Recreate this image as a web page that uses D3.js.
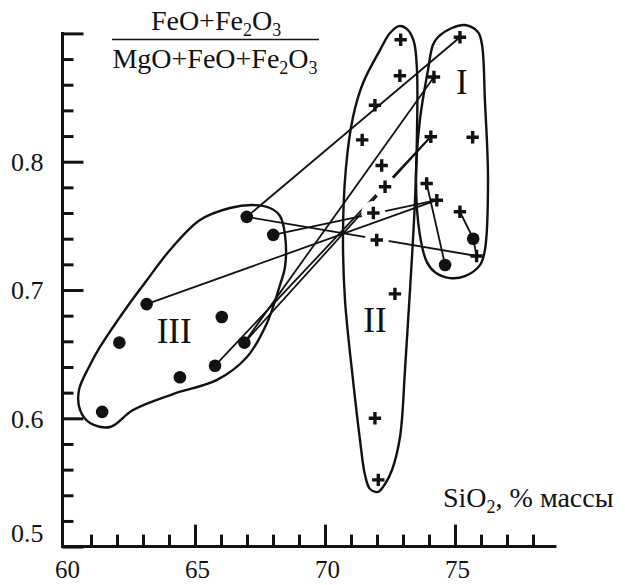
<!DOCTYPE html>
<html><head><meta charset="utf-8">
<script src="https://cdn.jsdelivr.net/npm/d3@7"></script>
<style>body{margin:0;background:#fff}</style>
</head><body><svg id="c" width="625" height="585"></svg>
<script>
// ---- data ----
const xTickLabels = [60, 65, 70, 75];
const xMinorTicks = [61,62,63,64,66,67,68,69,71,72,73,74,76,77,78];
const yTickValues = [0.5, 0.6, 0.7, 0.8, 0.9];
const yTickLabels = ["0.5", "0.6", "0.7", "0.8", ""];
const yMinorTicks = [0.52,0.54,0.56,0.58,0.62,0.64,0.66,0.68,0.72,0.74,0.76,0.78,0.82,0.84,0.86,0.88];

// enclaves (filled dots)
const dotSiO2 = [66.99, 68.01, 63.14, 66.03, 62.09, 66.90, 65.77, 64.42, 61.43, 75.70, 74.62];
const dotFe   = [0.757, 0.743, 0.689, 0.679, 0.659, 0.659, 0.641, 0.632, 0.605, 0.740, 0.7195];
// host rocks (crosses)
const crossSiO2 = [72.91, 75.19, 72.88, 74.19, 71.92, 71.43, 74.07, 75.68, 72.18, 72.31, 73.91, 74.30, 71.86, 75.19, 71.99, 75.83, 72.69, 71.92, 72.05];
const crossFe   = [0.895, 0.897, 0.867, 0.866, 0.844, 0.817, 0.8195, 0.819, 0.797, 0.7805, 0.783, 0.770, 0.760, 0.761, 0.739, 0.7265, 0.697, 0.600, 0.552];
// tie lines: [dot index, cross index]
const tiesBroken = [[0,15],[1,11],[5,6],[6,6]];
const tiesPlain  = [[0,1],[2,11],[5,3],[10,10],[9,13],[9,15]];
const brokenAt   = [9, 12, 14];

// field envelopes [SiO2, ratio]
const fieldI = [[74.35,0.8972],[74.88,0.9042],[75.38,0.9065],[75.88,0.9011],[76.04,0.8910],[76.15,0.8480],[76.27,0.7857],[76.15,0.7311],[75.96,0.7194],[75.38,0.7108],[74.81,0.7093],[74.23,0.7139],[73.92,0.7217],[73.65,0.7428],[73.50,0.7857],[73.65,0.8324],[73.96,0.8714],[74.15,0.8910]];
const fieldII = [[72.846,0.9057],[73.192,0.9026],[73.423,0.8932],[73.538,0.8714],[73.538,0.8223],[73.462,0.7701],[73.269,0.6999],[73.077,0.6376],[72.885,0.5854],[72.577,0.5597],[72.308,0.5488],[72.038,0.5426],[71.731,0.5449],[71.538,0.5558],[71.346,0.5831],[71.077,0.6299],[70.769,0.6922],[70.692,0.7444],[70.808,0.7958],[71.077,0.8348],[71.462,0.8613],[72.115,0.8870],[72.5,0.9003]];
const fieldIII = [[65.192,0.7546],[66.346,0.7639],[67.231,0.7662],[67.885,0.7639],[68.269,0.7577],[68.462,0.7429],[68.462,0.7179],[68.269,0.7039],[67.769,0.6743],[67.0,0.6478],[65.846,0.6299],[64.154,0.6189],[62.615,0.6065],[61.731,0.5932],[60.962,0.5963],[60.577,0.6065],[60.538,0.6221],[60.962,0.6416],[61.346,0.6556],[62.385,0.6868],[63.154,0.7078],[64.038,0.7312]];
const fieldNames = ["I", "II", "III"];
const fieldLabelPos = [[75.26, 0.853], [71.92, 0.667], [64.2, 0.659]];

// ---- drawing ----
const svg = d3.select("#c");
const FONT = "'Liberation Serif','Times New Roman',serif";
const x = d3.scaleLinear().domain([60, 79]).range([65, 559]);
const y = d3.scaleLinear().domain([0.5, 0.9]).range([546.6, 33.4]);
const X0 = 62.5;

const closedGen = d3.line().x(d => x(d[0])).y(d => y(d[1])).curve(d3.curveCatmullRomClosed.alpha(0.5));

function drawTies(list) {
  svg.append("g").selectAll("line").data(list).join("line")
    .attr("x1", d => x(dotSiO2[d[0]])).attr("y1", d => y(dotFe[d[0]]))
    .attr("x2", d => x(crossSiO2[d[1]])).attr("y2", d => y(crossFe[d[1]]))
    .attr("stroke", "#111").attr("stroke-width", 1.8);
}
drawTies(tiesBroken);
svg.append("g").selectAll("circle").data(brokenAt).join("circle")
  .attr("cx", i => x(crossSiO2[i])).attr("cy", i => y(crossFe[i])).attr("r", 12).attr("fill", "#fff");
drawTies(tiesPlain);

// envelopes
svg.append("g").selectAll("path").data([fieldI, fieldII, fieldIII]).join("path")
  .attr("d", closedGen).attr("fill", "none").attr("stroke", "#111").attr("stroke-width", 2.4);

// field labels
svg.append("g").selectAll("text").data(fieldNames).join("text")
  .attr("x", (d, i) => x(fieldLabelPos[i][0])).attr("y", (d, i) => y(fieldLabelPos[i][1]))
  .attr("text-anchor", "middle").attr("font-family", FONT).attr("font-size", 35).attr("fill", "#111")
  .text(d => d);

// markers
svg.append("g").selectAll("circle").data(dotSiO2).join("circle")
  .attr("cx", d => x(d)).attr("cy", (d, i) => y(dotFe[i])).attr("r", 6.3).attr("fill", "#111");
svg.append("g").selectAll("path").data(crossSiO2).join("path")
  .attr("transform", (d, i) => `translate(${x(d)},${y(crossFe[i])})`)
  .attr("d", "M-6.2,0H6.2M0,-6.2V6.2").attr("stroke", "#111").attr("stroke-width", 3.4);

// axes
const axisG = svg.append("g").attr("font-family", FONT);
const xAxis = d3.axisBottom(x).tickValues(xTickLabels).tickSizeInner(-22).tickSizeOuter(0).tickPadding(14).tickFormat(d3.format("d"));
const gx = axisG.append("g").attr("transform", `translate(0,${y(0.5)})`).call(xAxis);
gx.select(".domain").remove();
gx.selectAll(".tick line").attr("stroke", "#111").attr("stroke-width", 3).filter(d => d === 60).remove();
gx.selectAll(".tick text").attr("font-size", 25).attr("font-family", FONT).attr("fill", "#111").attr("dx", 2);
const gxm = axisG.append("g").attr("transform", `translate(0,${y(0.5)})`)
  .call(d3.axisBottom(x).tickValues(xMinorTicks).tickSizeInner(-12).tickSizeOuter(0).tickFormat(""));
gxm.select(".domain").remove();
gxm.selectAll(".tick line").attr("stroke", "#111").attr("stroke-width", 3);

const yAxis = d3.axisLeft(y).tickValues(yTickValues).tickSizeInner(-21).tickSizeOuter(0).tickPadding(19)
  .tickFormat((d, i) => yTickLabels[i]);
const gy = axisG.append("g").attr("transform", `translate(${X0},0)`).call(yAxis);
gy.select(".domain").remove();
gy.selectAll(".tick line").attr("stroke", "#111").attr("stroke-width", 3);
gy.selectAll(".tick text").attr("font-size", 26).attr("font-family", FONT).attr("fill", "#111")
  .attr("dy", d => d === 0.5 ? "-0.18em" : "0.34em");
const gym = axisG.append("g").attr("transform", `translate(${X0},0)`)
  .call(d3.axisLeft(y).tickValues(yMinorTicks).tickSizeInner(-11).tickSizeOuter(0).tickFormat(""));
gym.select(".domain").remove();
gym.selectAll(".tick line").attr("stroke", "#111").attr("stroke-width", 3);

axisG.append("line").attr("x1", X0).attr("x2", X0).attr("y1", y(0.9) - 1.5).attr("y2", y(0.5) + 1.5)
  .attr("stroke", "#111").attr("stroke-width", 3);
axisG.append("line").attr("x1", X0).attr("x2", x(78.9)).attr("y1", y(0.5)).attr("y2", y(0.5))
  .attr("stroke", "#111").attr("stroke-width", 3);

// y title: fraction
const t = svg.append("g").attr("font-family", FONT).attr("font-size", 28).attr("fill", "#111");
function chem(sel, parts) {
  parts.forEach(p => {
    if (p.sub) sel.append("tspan").attr("font-size", 18).attr("dy", 6).text(p.s);
    else sel.append("tspan").attr("dy", p.up ? -6 : 0).text(p.s);
  });
}
const num = t.append("text").attr("x", 216).attr("y", 30).attr("text-anchor", "middle");
chem(num, [{s:"FeO+Fe"},{s:"2",sub:1},{s:"O",up:1},{s:"3",sub:1}]);
t.append("line").attr("x1", 112).attr("x2", 319).attr("y1", 39.5).attr("y2", 39.5).attr("stroke", "#111").attr("stroke-width", 1.5);
const den = t.append("text").attr("x", 215).attr("y", 68).attr("text-anchor", "middle");
chem(den, [{s:"MgO+FeO+Fe"},{s:"2",sub:1},{s:"O",up:1},{s:"3",sub:1}]);

// x title
const xt = svg.append("text").attr("x", 443).attr("y", 507).attr("font-family", FONT).attr("font-size", 28).attr("fill", "#111");
chem(xt, [{s:"SiO"},{s:"2",sub:1},{s:", % массы",up:1}]);
</script></body></html>
